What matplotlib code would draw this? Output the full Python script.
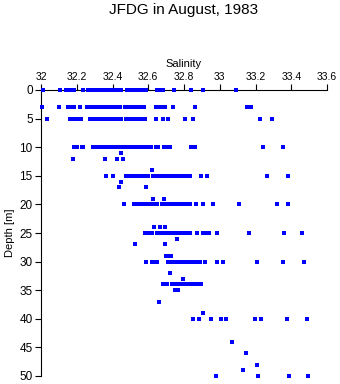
# Salinity vs depth scatter, JFDG station, August 1983

import matplotlib
matplotlib.use("Agg")
import matplotlib.pyplot as plt

# Salinity readings grouped by depth [m]
depths = [0, 3, 5, 10, 11, 12, 14, 15, 16, 17, 19, 20, 24, 25, 26, 27,
          29, 30, 32, 33, 34, 35, 37, 39, 40, 44, 46, 48, 49, 50]

sal_0 = [32.009, 32.106, 32.14, 32.162, 32.186, 32.237, 32.265, 32.275, 32.285,
         32.295, 32.305, 32.315, 32.325, 32.335, 32.345, 32.355, 32.365, 32.375,
         32.385, 32.40, 32.42, 32.435, 32.446, 32.479, 32.504, 32.515, 32.53,
         32.542, 32.554, 32.572, 32.59, 32.647, 32.67, 32.684, 32.744, 32.837,
         32.908, 33.089]
sal_3 = [32.006, 32.10, 32.153, 32.166, 32.186, 32.218, 32.26, 32.27, 32.28,
         32.29, 32.30, 32.31, 32.32, 32.338, 32.35, 32.36, 32.37, 32.38, 32.39,
         32.40, 32.41, 32.42, 32.43, 32.44, 32.47, 32.494, 32.505, 32.516,
         32.527, 32.538, 32.55, 32.564, 32.578, 32.643, 32.666, 32.68, 32.694,
         32.74, 32.86, 33.154, 33.176]
sal_5 = [32.035, 32.162, 32.172, 32.185, 32.209, 32.222, 32.274, 32.285, 32.297,
         32.309, 32.32, 32.336, 32.348, 32.36, 32.372, 32.384, 32.396, 32.408,
         32.42, 32.432, 32.444, 32.45, 32.476, 32.488, 32.50, 32.512, 32.524,
         32.535, 32.55, 32.565, 32.58, 32.645, 32.684, 32.712, 32.806, 32.849,
         33.225, 33.294]
sal_10 = [32.185, 32.20, 32.23, 32.237, 32.289, 32.31, 32.32, 32.33, 32.345,
          32.355, 32.365, 32.375, 32.385, 32.395, 32.405, 32.415, 32.425, 32.435,
          32.445, 32.455, 32.47, 32.494, 32.504, 32.514, 32.524, 32.534, 32.544,
          32.554, 32.564, 32.574, 32.584, 32.594, 32.604, 32.614, 32.645, 32.656,
          32.688, 32.70, 32.72, 32.84, 32.86, 33.244, 33.356]
sal_11 = [32.45]
sal_12 = [32.181, 32.358, 32.423, 32.46]
sal_14 = [32.62]
sal_15 = [32.362, 32.405, 32.476, 32.487, 32.498, 32.51, 32.52, 32.535, 32.546,
          32.557, 32.568, 32.579, 32.59, 32.60, 32.625, 32.637, 32.65, 32.662,
          32.675, 32.694, 32.706, 32.718, 32.73, 32.744, 32.76, 32.772, 32.787,
          32.806, 32.82, 32.834, 32.895, 32.93, 33.263, 33.38]
sal_16 = [32.448]
sal_17 = [32.438, 32.586]
sal_19 = [32.628, 32.69]
sal_20 = [32.466, 32.52, 32.531, 32.542, 32.554, 32.565, 32.576, 32.59, 32.602,
          32.614, 32.626, 32.638, 32.65, 32.675, 32.686, 32.697, 32.708, 32.719,
          32.73, 32.742, 32.753, 32.764, 32.776, 32.787, 32.798, 32.81, 32.822,
          32.834, 32.867, 32.904, 32.964, 33.109, 33.318, 33.384]
sal_24 = [32.634, 32.666, 32.695]
sal_25 = [32.582, 32.595, 32.608, 32.62, 32.647, 32.658, 32.67, 32.682, 32.694,
          32.706, 32.718, 32.73, 32.742, 32.754, 32.766, 32.778, 32.79, 32.802,
          32.814, 32.826, 32.834, 32.871, 32.904, 32.92, 32.94, 32.983, 33.165,
          33.36, 33.46]
sal_26 = [32.759]
sal_27 = [32.526, 32.694]
sal_29 = [32.70, 32.715, 32.73]
sal_30 = [32.587, 32.62, 32.632, 32.647, 32.712, 32.724, 32.736, 32.748, 32.76,
          32.772, 32.784, 32.796, 32.808, 32.82, 32.832, 32.844, 32.856, 32.868,
          32.88, 32.89, 32.917, 32.986, 33.016, 33.21, 33.356, 33.47]
sal_32 = [32.724]
sal_33 = [32.794]
sal_34 = [32.68, 32.694, 32.707, 32.735, 32.757, 32.77, 32.783, 32.796, 32.81,
          32.823, 32.836, 32.85, 32.863, 32.876, 32.89, 32.897]
sal_35 = [32.75, 32.766]
sal_37 = [32.662]
sal_39 = [32.908]
sal_40 = [32.852, 32.886, 32.951, 33.007, 33.035, 33.197, 33.231, 33.374, 33.486]
sal_44 = [33.067]
sal_46 = [33.145]
sal_48 = [33.21]
sal_49 = [33.132]
sal_50 = [32.977, 33.216, 33.389, 33.495]

salinity_rows = [sal_0, sal_3, sal_5, sal_10, sal_11, sal_12, sal_14, sal_15,
                 sal_16, sal_17, sal_19, sal_20, sal_24, sal_25, sal_26, sal_27,
                 sal_29, sal_30, sal_32, sal_33, sal_34, sal_35, sal_37, sal_39,
                 sal_40, sal_44, sal_46, sal_48, sal_49, sal_50]

x_ticks = [32, 32.2, 32.4, 32.6, 32.8, 33, 33.2, 33.4, 33.6]
x_labels = ["32", "32.2", "32.4", "32.6", "32.8", "33", "33.2", "33.4", "33.6"]
y_ticks = [0, 5, 10, 15, 20, 25, 30, 35, 40, 45, 50]


def flatten(rows, levels):
    xs, ys = [], []
    for d, row in zip(levels, rows):
        for s in row:
            xs.append(s)
            ys.append(d)
    return xs, ys


def main():
    plt.rcParams['font.family'] = ['Liberation Sans', 'DejaVu Sans']

    fig = plt.figure(figsize=(3.4, 3.84), dpi=100)
    ax = fig.add_axes([41 / 340, 1 - 376 / 384, 286 / 340, 286 / 384])

    # crisp 3px squares, drawn over the spines
    sal, dep = flatten(salinity_rows, depths)
    ax.plot(sal, dep, linestyle='none', marker='s', markersize=2.2,
            markeredgewidth=0, color='#0000ff', antialiased=False,
            clip_on=False, zorder=3)

    ax.set_xlim(32, 33.6)
    ax.set_ylim(50, 0)

    # salinity axis sits on top
    ax.xaxis.set_ticks_position('top')
    ax.xaxis.set_label_position('top')
    ax.set_xticks(x_ticks)
    ax.set_xticklabels(x_labels)
    ax.set_yticks(y_ticks)
    ax.tick_params(axis='both', direction='out', length=4, width=0.8,
                   pad=2, colors='black')
    ax.tick_params(axis='x', labelsize=7.5)
    ax.tick_params(axis='y', labelsize=8.5)

    for side in ['right', 'bottom']:
        ax.spines[side].set_visible(False)
    for side in ['top', 'left']:
        ax.spines[side].set_linewidth(0.8)

    ax.set_xlabel('Salinity', fontsize=8, labelpad=3)
    ax.set_ylabel('Depth [m]', fontsize=8, labelpad=3)

    fig.text(184 / 340, 1 - 10 / 384, 'JFDG in August, 1983', fontsize=11,
             ha='center', va='center')

    fig.savefig('out.png', dpi=100)
    plt.close(fig)


if __name__ == "__main__":
    main()
